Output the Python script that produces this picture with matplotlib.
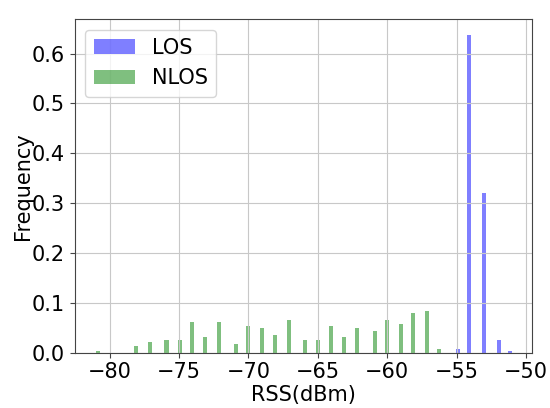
import matplotlib
matplotlib.use("Agg")
import matplotlib.pyplot as plt

# bar centres (dBm) and frequencies
los_rss = [-54.9, -54.13, -53.07, -51.99, -51.2]
los_freq = [0.0075, 0.638, 0.3206, 0.0255, 0.0035]

nlos_rss = [-80.86, -78.08, -77.1, -75.9, -74.96, -74.05, -73.1, -72.1,
            -70.9, -70.0, -69.0, -68.1, -67.1, -65.95, -64.99, -64.03,
            -63.12, -62.16, -60.91, -60.0, -59.04, -58.13, -57.17, -56.26]
nlos_freq = [0.0034, 0.0134, 0.022, 0.026, 0.026, 0.0615, 0.031, 0.0615,
             0.0174, 0.053, 0.049, 0.0355, 0.066, 0.0254, 0.0254, 0.053,
             0.031, 0.049, 0.044, 0.066, 0.0575, 0.079, 0.0835, 0.008]

fs = 15

fig = plt.figure(figsize=(5.5, 4.08), dpi=100)
ax = fig.add_axes([0.136, 0.1355, 0.831, 0.8175])

ax.bar(los_rss, los_freq, width=0.29, color='blue', alpha=0.5, label='LOS')
ax.bar(nlos_rss, nlos_freq, width=0.29, color='green', alpha=0.5, label='NLOS')

ax.set_xlim(-82.5, -49.6)
ax.set_ylim(0, 0.669)
ax.set_xticks([-80, -75, -70, -65, -60, -55, -50])
ax.set_yticks([0.0, 0.1, 0.2, 0.3, 0.4, 0.5, 0.6])
ax.tick_params(labelsize=fs, color='#444444')
for s in ax.spines.values():
    s.set_color('#444444')
ax.grid(True, color='#c8c8c8', linewidth=0.8)
ax.set_xlabel('RSS(dBm)', fontsize=fs, labelpad=2)
ax.set_ylabel('Frequency', fontsize=fs, labelpad=-1)
ax.legend(loc='upper left', fontsize=fs)

fig.savefig('out.png', dpi=100)
